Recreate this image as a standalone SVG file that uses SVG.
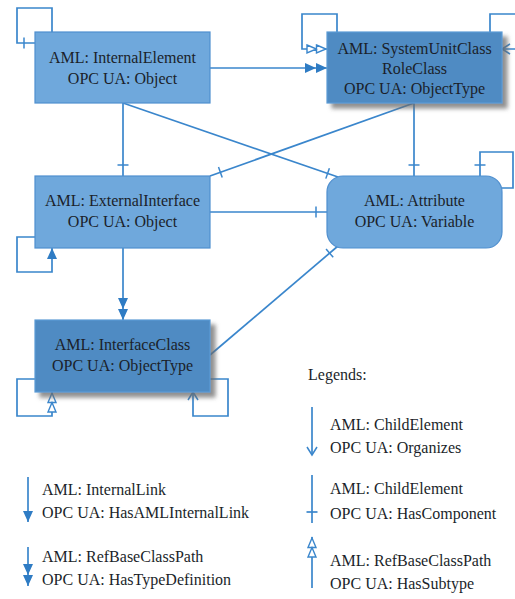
<svg xmlns="http://www.w3.org/2000/svg" width="515" height="599" viewBox="0 0 515 599" font-family="'Liberation Serif', 'Times New Roman', serif">
  <style>
    .box-light { fill: #6fa8dc; stroke: #4f8fcf; stroke-width: 1.2; }
    .box-dark { fill: #4f8bc3; stroke: #5b9bd5; stroke-width: 1.2; }
    text { font-family: 'Liberation Serif', 'Times New Roman', serif; font-size: 16px; fill: #1b1f2a; }
    .mid { text-anchor: middle; }
    .conn { fill: none; stroke: #3a86cc; stroke-width: 1.7; }
  </style>
  <defs>
    <filter id="shadow" x="-10%" y="-10%" width="130%" height="140%">
      <feDropShadow dx="5" dy="5" stdDeviation="2" flood-color="#6b6b6b" flood-opacity="0.75"/>
    </filter>
    <!-- single filled triangle -->
    <marker id="fill1" markerUnits="userSpaceOnUse" markerWidth="12" markerHeight="10" refX="11" refY="5" orient="auto" overflow="visible">
      <path d="M0,0 L11,5 L0,10 z" fill="#2f7cc4"/>
    </marker>
    <!-- double filled triangle -->
    <marker id="fill2" markerUnits="userSpaceOnUse" markerWidth="22" markerHeight="10" refX="22" refY="5" orient="auto" overflow="visible">
      <path d="M0,0 L11,5 L0,10 z M11,0 L22,5 L11,10 z" fill="#2f7cc4"/>
    </marker>
    <!-- double open triangle -->
    <marker id="open2" markerUnits="userSpaceOnUse" markerWidth="22" markerHeight="10" refX="21" refY="4.5" orient="auto" overflow="visible">
      <path d="M1,0.5 L10.5,4.5 L1,8.5 z M10.5,0.5 L20,4.5 L10.5,8.5 z" fill="#fff" stroke="#3a86cc" stroke-width="1.4"/>
    </marker>
    <!-- open V head -->
    <marker id="vee" markerUnits="userSpaceOnUse" markerWidth="10" markerHeight="10" refX="9" refY="5" orient="auto" overflow="visible">
      <path d="M1,0 L9,5 L1,10" fill="none" stroke="#3a86cc" stroke-width="1.5"/>
    </marker>
    <!-- perpendicular tick a short way before the end -->
    <marker id="tick" markerUnits="userSpaceOnUse" markerWidth="2" markerHeight="12" refX="11" refY="0" orient="auto" overflow="visible">
      <path d="M0,-5.5 L0,5.5" stroke="#3a86cc" stroke-width="1.5"/>
    </marker>
  </defs>

  <g id="connectors">
    <!-- self loops -->
    <path class="conn" d="M52,32 V8 H17 V43 H35" marker-end="url(#tick)"/>
    <path class="conn" d="M337,32 V14 H302 V49 H327" marker-end="url(#open2)"/>
    <path class="conn" d="M490,32 V14 H522 V49 H502" marker-end="url(#vee)"/>
    <path class="conn" d="M502,188 H513 V152 H480 V176" marker-end="url(#tick)"/>
    <path class="conn" d="M35,237 H17 V272 H52 V248" marker-end="url(#fill1)"/>
    <path class="conn" d="M35,379 H17 V416 H52 V392" marker-end="url(#open2)"/>
    <path class="conn" d="M210,379 H228 V416 H193 V392" marker-end="url(#vee)"/>
    <!-- links between nodes -->
    <path class="conn" d="M210,68 H327" marker-end="url(#fill2)"/>
    <path class="conn" d="M123,103 V176" marker-end="url(#tick)"/>
    <path class="conn" d="M123,103 L338,177" marker-end="url(#tick)"/>
    <path class="conn" d="M414,103 V176" marker-end="url(#tick)"/>
    <path class="conn" d="M414,103 L210,176" marker-end="url(#tick)"/>
    <path class="conn" d="M210,212 H327" marker-end="url(#tick)"/>
    <path class="conn" d="M123,248 V320" marker-end="url(#fill2)"/>
    <path class="conn" d="M210,355 L338,246" marker-end="url(#tick)"/>
  </g>

  <g id="internal-element">
    <rect class="box-light" x="35" y="32" width="175" height="71"/>
    <text class="mid" x="122.5" y="63">AML: InternalElement</text>
    <text class="mid" x="122.5" y="84">OPC UA: Object</text>
  </g>

  <g id="system-unit-class">
    <rect class="box-dark" x="327" y="32" width="175" height="71" filter="url(#shadow)"/>
    <text class="mid" x="414.5" y="54">AML: SystemUnitClass</text>
    <text class="mid" x="414.5" y="74">RoleClass</text>
    <text class="mid" x="414.5" y="94">OPC UA: ObjectType</text>
  </g>

  <g id="external-interface">
    <rect class="box-light" x="35" y="176" width="175" height="72"/>
    <text class="mid" x="122.5" y="206">AML: ExternalInterface</text>
    <text class="mid" x="122.5" y="227">OPC UA: Object</text>
  </g>

  <g id="attribute">
    <rect class="box-light" x="327" y="176" width="175" height="72" rx="16" ry="16"/>
    <text class="mid" x="414.5" y="206">AML: Attribute</text>
    <text class="mid" x="414.5" y="227">OPC UA: Variable</text>
  </g>

  <g id="interface-class">
    <rect class="box-dark" x="35" y="320" width="175" height="72" filter="url(#shadow)"/>
    <text class="mid" x="122.5" y="350">AML: InterfaceClass</text>
    <text class="mid" x="122.5" y="371">OPC UA: ObjectType</text>
  </g>

  <g id="legend">
    <text x="308" y="380">Legends:</text>

    <path class="conn" d="M312,407 V455" marker-end="url(#vee)"/>
    <text x="330" y="430">AML: ChildElement</text>
    <text x="330" y="453">OPC UA: Organizes</text>

    <path class="conn" d="M312,475 V523"/>
    <path class="conn" d="M306.5,512 H317.5" stroke-width="1.5"/>
    <text x="330" y="494">AML: ChildElement</text>
    <text x="330" y="519">OPC UA: HasComponent</text>

    <path class="conn" d="M312,588 V537" marker-end="url(#open2)"/>
    <text x="330" y="566">AML: RefBaseClassPath</text>
    <text x="330" y="589">OPC UA: HasSubtype</text>

    <path class="conn" d="M28,477 V522" marker-end="url(#fill1)"/>
    <text x="42" y="495">AML: InternalLink</text>
    <text x="42" y="518">OPC UA: HasAMLInternalLink</text>

    <path class="conn" d="M28,547 V586" marker-end="url(#fill2)"/>
    <text x="42" y="562">AML: RefBaseClassPath</text>
    <text x="42" y="585">OPC UA: HasTypeDefinition</text>
  </g>
</svg>
